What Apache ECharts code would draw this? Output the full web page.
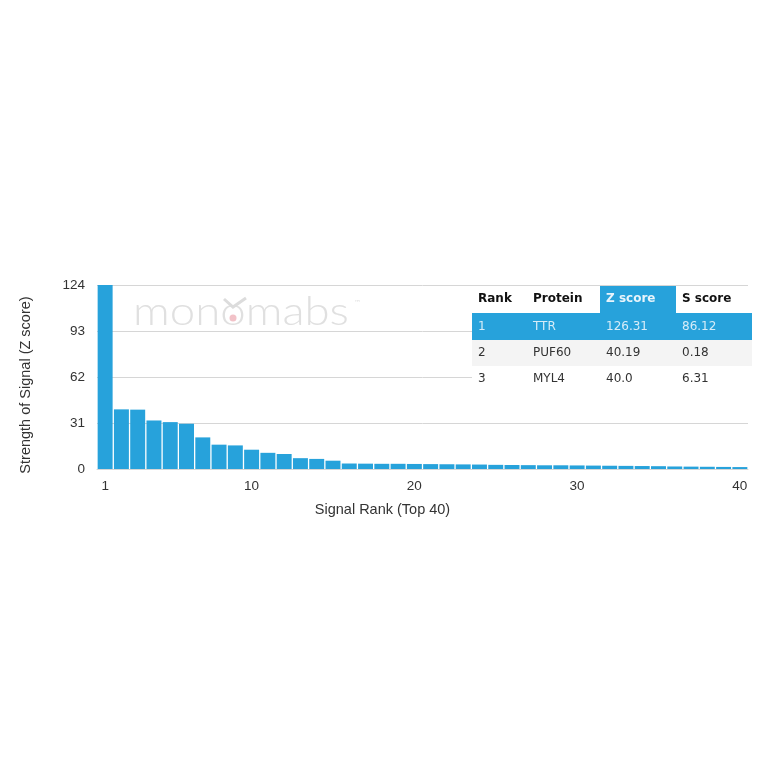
<!DOCTYPE html>
<html>
<head>
<meta charset="utf-8">
<script src="https://cdn.jsdelivr.net/npm/echarts@6/dist/echarts.min.js"></script>
<style>html,body{margin:0;padding:0;background:#fff;}#c{width:764px;height:764px;}</style>
</head>
<body>
<div id="c"></div>
<script>
// ---- data ----
var ranks = [];
for (var i = 1; i <= 40; i++) ranks.push(String(i));
var zScores = [126.31, 40.19, 40.0, 32.7, 31.6, 30.5, 21.3, 16.4, 15.9, 13.0,
               10.9, 10.1, 7.3, 6.8, 5.6, 3.7, 3.6, 3.5, 3.5, 3.4,
               3.3, 3.2, 3.1, 3.0, 2.8, 2.7, 2.6, 2.5, 2.5, 2.4,
               2.3, 2.2, 2.1, 2.0, 1.9, 1.7, 1.6, 1.5, 1.4, 1.3];
var yTicks = [0, 31, 62, 93, 124];
var tableHeader = ['Rank', 'Protein', 'Z score', 'S score'];
var tableRank = ['1', '2', '3'];
var tableProtein = ['TTR', 'PUF60', 'MYL4'];
var tableZ = ['126.31', '40.19', '40.0'];
var tableS = ['86.12', '0.18', '6.31'];

// ---- table graphics ----
var colX = [472, 527, 600, 676];
var tableRight = 752;
var blue = '#27a2db';
var g = [];
g.push({type:'rect', shape:{x:472, y:287, width:tableRight-472, height:391-287}, style:{fill:'#fff'}, z:10});
g.push({type:'rect', shape:{x:colX[2], y:286, width:colX[3]-colX[2], height:27}, style:{fill:blue}, z:11});
g.push({type:'rect', shape:{x:472, y:313, width:tableRight-472, height:27}, style:{fill:blue}, z:11});
g.push({type:'rect', shape:{x:472, y:340, width:tableRight-472, height:26}, style:{fill:'#f4f4f4'}, z:11});
for (var c = 0; c < 4; c++) {
  g.push({type:'text', x:colX[c]+6, y:299, z:12,
    style:{text:tableHeader[c], font:'bold 12px "DejaVu Sans"', fill: c===2 ? '#e8f4fb' : '#111', verticalAlign:'middle', textAlign:'left'}});
}
var rows = [tableRank, tableProtein, tableZ, tableS];
var rowCY = [326.5, 353, 379];
for (var r = 0; r < 3; r++) {
  for (var c2 = 0; c2 < 4; c2++) {
    g.push({type:'text', x:colX[c2]+6, y:rowCY[r], z:12,
      style:{text:rows[c2][r], font:'12px "DejaVu Sans"', fill: r===0 ? '#d6ecf8' : '#333', verticalAlign:'middle', textAlign:'left'}});
  }
}
// watermark
g.push({type:'text', x:133, y:312, z:1, scaleX:1.14, originX:0, originY:0,
  style:{text:'monomabs', font:'300 40px "Lato"', fill:'#e0e0e0', verticalAlign:'middle', textAlign:'left'}});
g.push({type:'text', x:354, y:300, z:1, style:{text:'™', font:'7px "DejaVu Sans"', fill:'#ddd'}});
g.push({type:'polyline', shape:{points:[[224,299],[233,307],[246,298]]}, style:{stroke:'#dcdcdc', lineWidth:3, fill:null}, z:2});
g.push({type:'circle', shape:{cx:233, cy:318, r:3.5}, style:{fill:'#f2c2c8'}, z:2});

var chart = echarts.init(document.getElementById('c'));
chart.setOption({
  backgroundColor: '#fff',
  animation: false,
  grid: {left: 97, right: 16, top: 285, bottom: 295},
  xAxis: {
    type: 'category',
    data: ranks,
    boundaryGap: true,
    axisTick: {show: false},
    axisLine: {show: true, lineStyle: {color: '#d6d6d6'}},
    axisLabel: {
      interval: function (idx) { return idx === 0 || (idx + 1) % 10 === 0; },
      color: '#333', fontSize: 13.5, fontFamily: 'Liberation Sans', margin: 10
    },
    name: 'Signal Rank (Top 40)',
    nameLocation: 'middle',
    nameGap: 33,
    nameTextStyle: {color: '#333', fontSize: 14.5, fontFamily: 'Liberation Sans', padding: [0, 80, 0, 0]}
  },
  yAxis: {
    type: 'value',
    min: 0, max: 124, interval: 31,
    axisLine: {show: false},
    axisTick: {show: false},
    axisLabel: {color: '#333', fontSize: 13.5, fontFamily: 'Liberation Sans', margin: 12,
      formatter: function (v) { return yTicks.indexOf(v) >= 0 ? String(v) : ''; }},
    splitLine: {lineStyle: {color: '#d6d6d6'}},
    name: 'Strength of Signal (Z score)',
    nameLocation: 'middle',
    nameGap: 64,
    nameTextStyle: {color: '#333', fontSize: 14.5, fontFamily: 'Liberation Sans', padding: [0, 16, 0, 0]}
  },
  series: [{
    type: 'bar',
    data: zScores,
    barCategoryGap: '8%',
    clip: true,
    itemStyle: {color: blue},
    z: 3
  }],
  graphic: g
});
</script>
</body>
</html>
